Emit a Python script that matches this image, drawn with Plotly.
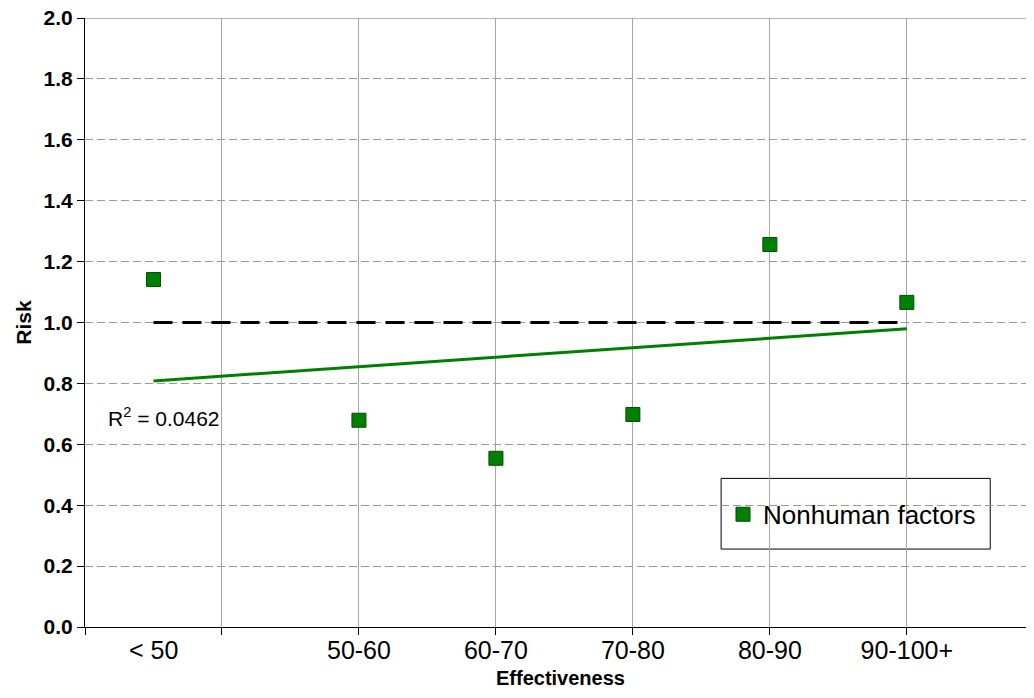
import numpy as np
import plotly.graph_objects as go

categories = ["< 50", "50-60", "60-70", "70-80", "80-90", "90-100+"]
x_pos = [0.5, 2, 3, 4, 5, 6]
risk = [1.141, 0.679, 0.554, 0.698, 1.256, 1.066]
reference_risk = 1.0
r2_text = "R<sup>2</sup> = 0.0462"
series_name = "Nonhuman factors"
x_title = "Effectiveness"
y_title = "Risk"
y_ticks = [0.0, 0.2, 0.4, 0.6, 0.8, 1.0, 1.2, 1.4, 1.6, 1.8, 2.0]
x_grid = [0, 1, 2, 3, 4, 5, 6]

FONT = "Liberation Sans, Arial, sans-serif"
GREEN = "#008000"

slope, intercept = np.polyfit(x_pos, risk, 1)
trend_x = [x_pos[0], x_pos[-1]]
trend_y = [slope * v + intercept for v in trend_x]

fig = go.Figure()

fig.add_trace(go.Scatter(
    x=[x_pos[0], x_pos[-1]], y=[reference_risk, reference_risk],
    mode="lines", line=dict(color="black", width=3, dash="19px,10px"),
    showlegend=False, hoverinfo="skip"))

fig.add_trace(go.Scatter(
    x=trend_x, y=trend_y, mode="lines",
    line=dict(color=GREEN, width=3), showlegend=False, hoverinfo="skip"))

fig.add_trace(go.Scatter(
    x=x_pos, y=risk, mode="markers", name=series_name,
    marker=dict(symbol="square", size=14, color=GREEN,
                line=dict(color="#004d00", width=1))))

tick_text = ["", ""] + categories[1:]

# the page body adds an 8px margin, so the figure is sized to fit the window
fig.update_layout(
    width=1018, height=682,
    margin=dict(l=77, r=0, t=10, b=63),
    plot_bgcolor="white", paper_bgcolor="white",
    font=dict(family=FONT, color="black"),
    showlegend=True,
    legend=dict(x=0.678, y=0.185, xanchor="left", yanchor="middle",
                bgcolor="rgba(0,0,0,0)", borderwidth=0,
                font=dict(size=26, family=FONT, color="black")),
    xaxis=dict(
        range=[0, 6.87], tickmode="array", tickvals=x_grid, ticktext=tick_text,
        ticks="outside", ticklen=7, tickcolor="black", automargin=False,
        ticklabeloverflow="allow", ticklabelstandoff=-6,
        showline=True, linecolor="black", linewidth=1,
        showgrid=True, gridcolor="#a6a6a6", gridwidth=1,
        zeroline=False, tickfont=dict(size=25)),
    yaxis=dict(
        range=[0, 2.0], tickmode="array", tickvals=y_ticks,
        ticktext=[f"<b>{v:.1f}</b>" for v in y_ticks],
        ticks="outside", ticklen=7, tickcolor="black", automargin=False,
        ticklabeloverflow="allow",
        showline=True, linecolor="black", linewidth=1,
        showgrid=True, gridcolor="#999999", griddash="8px,4px", gridwidth=1,
        zeroline=False, tickfont=dict(size=21),
        title=dict(text=f"<b>{y_title}</b>", font=dict(size=21), standoff=6)),
)

# top boundary line (solid grey)
fig.add_shape(type="line", xref="paper", yref="y", x0=0, x1=1, y0=2.0, y1=2.0,
              line=dict(color="#999999", width=1.5))

# legend box
fig.add_shape(type="rect", xref="paper", yref="paper",
              x0=0.676, x1=0.962, y0=0.128, y1=0.244,
              line=dict(color="black", width=1), fillcolor="white", layer="below")

# "< 50" label (first category, centred between gridlines)
fig.add_annotation(x=x_pos[0], y=0, yref="y", yshift=-23, yanchor="middle",
                   text=categories[0], showarrow=False,
                   font=dict(size=25, family=FONT, color="black"))

# x axis title
fig.add_annotation(x=0.505, xref="paper", y=0, yref="paper", yshift=-51,
                   yanchor="middle", text=f"<b>{x_title}</b>", showarrow=False,
                   font=dict(size=20, family=FONT, color="black"))

fig.add_annotation(x=0.15, xref="x", y=0.69, yref="y", xanchor="left",
                   yanchor="middle", text=r2_text, showarrow=False,
                   font=dict(size=21, family=FONT, color="black"))

fig.write_html("out.html")
